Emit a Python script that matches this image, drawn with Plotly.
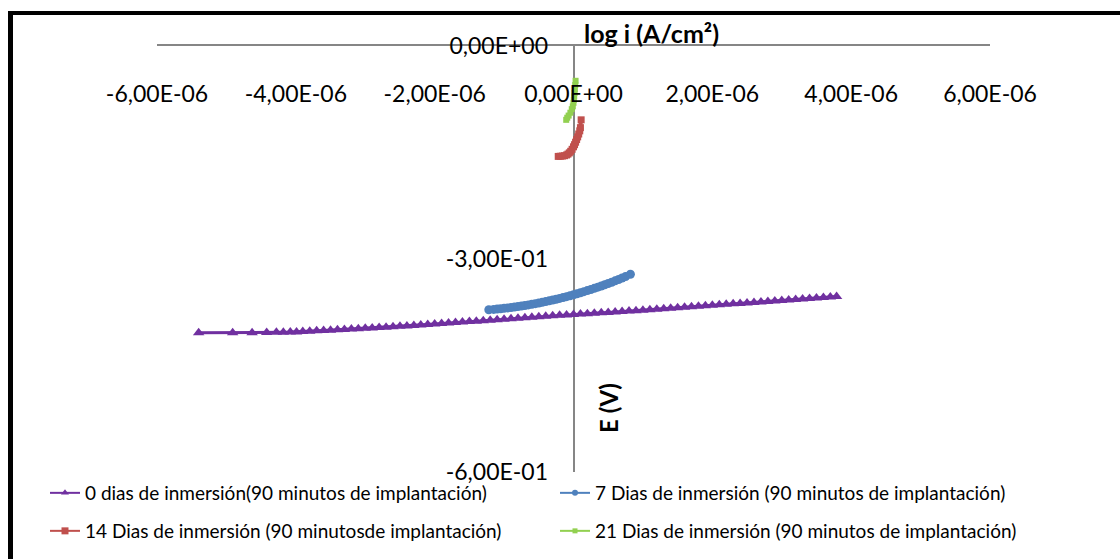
import plotly.graph_objects as go

# ---------------- data (current in 1e-6 A/cm2, potential in V) ----------------
x0_e6 = [-5.40, -4.91, -4.63, -4.42, -4.28, -4.18, -4.08, -3.99,
         -3.9, -3.8, -3.7, -3.6, -3.5, -3.4, -3.3, -3.2, -3.1, -3.0,
         -2.9, -2.8, -2.7, -2.6, -2.5, -2.4, -2.3, -2.2, -2.1, -2.0,
         -1.9, -1.8, -1.7, -1.6, -1.5, -1.4, -1.3, -1.2, -1.1, -1.0,
         -0.9, -0.8, -0.7, -0.6, -0.5, -0.4, -0.3, -0.2, -0.1, 0.0,
         0.1, 0.2, 0.3, 0.4, 0.5, 0.6, 0.7, 0.8, 0.9, 1.0,
         1.1, 1.2, 1.3, 1.4, 1.5, 1.6, 1.7, 1.8, 1.9, 2.0,
         2.1, 2.2, 2.3, 2.4, 2.5, 2.6, 2.7, 2.8, 2.9, 3.0,
         3.1, 3.2, 3.3, 3.4, 3.5, 3.6, 3.7, 3.79]
e0 = [-0.4040, -0.4040, -0.4038, -0.4035, -0.4033, -0.4031, -0.4029, -0.4027,
      -0.4022, -0.4017, -0.4012, -0.4007, -0.4002, -0.3997, -0.3992, -0.3987, -0.3982, -0.3977,
      -0.3972, -0.3966, -0.3960, -0.3954, -0.3948, -0.3942, -0.3936, -0.3930, -0.3924, -0.3917,
      -0.3910, -0.3903, -0.3896, -0.3889, -0.3882, -0.3875, -0.3868, -0.3861, -0.3854, -0.3847,
      -0.3840, -0.3833, -0.3826, -0.3819, -0.3812, -0.3806, -0.3800, -0.3794, -0.3788, -0.3782,
      -0.3776, -0.3770, -0.3764, -0.3758, -0.3752, -0.3746, -0.3740, -0.3734, -0.3728, -0.3722,
      -0.3716, -0.3709, -0.3702, -0.3695, -0.3688, -0.3681, -0.3674, -0.3667, -0.3660, -0.3653,
      -0.3646, -0.3639, -0.3632, -0.3625, -0.3618, -0.3611, -0.3604, -0.3597, -0.3590, -0.3583,
      -0.3576, -0.3569, -0.3562, -0.3555, -0.3548, -0.3541, -0.3534, -0.3527]

x7_e6 = [-1.22, -1.15, -1.1, -1.05, -1.0, -0.95, -0.9, -0.85, -0.8, -0.75, -0.7, -0.65,
         -0.6, -0.55, -0.5, -0.45, -0.4, -0.35, -0.3, -0.25, -0.2, -0.15, -0.1, -0.05,
         0.0, 0.05, 0.1, 0.15, 0.2, 0.25, 0.3, 0.35, 0.4, 0.45, 0.5, 0.55, 0.6, 0.65,
         0.7, 0.75, 0.82]
e7 = [-0.3715, -0.3710, -0.3705, -0.3700, -0.3695, -0.3689, -0.3683, -0.3677, -0.3670, -0.3663, -0.3655, -0.3647,
      -0.3638, -0.3629, -0.3620, -0.3610, -0.3600, -0.3589, -0.3578, -0.3567, -0.3555, -0.3543, -0.3530, -0.3517,
      -0.3503, -0.3489, -0.3475, -0.3460, -0.3445, -0.3429, -0.3413, -0.3397, -0.3380, -0.3363, -0.3345, -0.3327, -0.3308, -0.3288,
      -0.3268, -0.3248, -0.3215]

x14_e6 = [-0.22, -0.19, -0.16, -0.13, -0.10, -0.08, -0.06, -0.04, -0.02, 0.0, 0.015, 0.03, 0.045,
          0.06, 0.075, 0.09, 0.10, 0.11]
e14 = [-0.1555, -0.1553, -0.1550, -0.1545, -0.1535, -0.1522, -0.1505, -0.1483, -0.1455, -0.1420, -0.1390, -0.1355, -0.1318,
       -0.1280, -0.1240, -0.1195, -0.1150, -0.1040]

x21_e6 = [0.03, 0.025, 0.02, 0.015, 0.01, 0.005, 0.0, -0.01, -0.025, -0.045, -0.07, -0.09, -0.105]
e21 = [-0.049, -0.055, -0.061, -0.066, -0.071, -0.076, -0.080, -0.085, -0.089, -0.094, -0.098, -0.101, -0.104]

x_ticks = [-6e-6, -4e-6, -2e-6, 0, 2e-6, 4e-6, 6e-6]
x_tick_text = ["-6,00E-06", "-4,00E-06", "-2,00E-06", "0,00E+00", "2,00E-06", "4,00E-06", "6,00E-06"]
y_ticks = [0, -0.3, -0.6]
y_tick_text = ["0,00E+00", "-3,00E-01", "-6,00E-01"]

names = ["0 dias de inmersión(90 minutos de implantación)",
         "7 Dias de inmersión (90 minutos de implantación)",
         "14 Dias de inmersión (90 minutosde implantación)",
         "21 Dias de inmersión (90 minutos de implantación)"]
colors = ["#7030A0", "#4F81BD", "#C0504D", "#92D050"]
symbols = ["triangle-up", "circle", "square", "square"]

FONT = "Lato"

# plot-area geometry in pixels (for paper-coordinate helpers)
L, R, T, B = 157, 990, 46, 472
W, H = R - L, B - T
def px(xp):
    return (xp - L) / W
def py(yp):
    return (B - yp) / H

fig = go.Figure()

series = [(x0_e6, e0), (x7_e6, e7), (x14_e6, e14), (x21_e6, e21)]
line_w = [3, 4, 4, 4]
mk_size = [10, 9, 7, 6]
for i, (xs, es) in enumerate(series):
    fig.add_trace(go.Scatter(
        x=[v * 1e-6 for v in xs], y=es, mode="lines+markers",
        line=dict(color=colors[i], width=line_w[i]),
        marker=dict(symbol=symbols[i], size=mk_size[i], color=colors[i]),
        showlegend=False, hoverinfo="skip"))

# legend-only entries (one legend per entry for exact placement)
leg_ids = ["legend", "legend2", "legend3", "legend4"]
legend_mk = [7, 6, 7, 5]
for i in range(4):
    fig.add_trace(go.Scatter(
        x=[None], y=[None], xaxis="x2", mode="lines+markers", name=names[i],
        line=dict(color=colors[i], width=2),
        marker=dict(symbol=symbols[i], size=legend_mk[i], color=colors[i]),
        legend=leg_ids[i]))

row1, row2 = py(493), py(531)
col1, col2 = px(45), px(555)
legend_pos = {"legend": (col1, row1), "legend2": (col2, row1),
              "legend3": (col1, row2), "legend4": (col2, row2)}
leg_layout = {}
for k, (lx, ly) in legend_pos.items():
    leg_layout[k] = dict(x=lx, y=ly, xanchor="left", yanchor="middle",
                         font=dict(family=FONT, size=19, color="#000000"),
                         bgcolor="rgba(0,0,0,0)", borderwidth=0)

fig.update_layout(
    width=1120, height=559,
    margin=dict(l=L, r=1120 - R, t=T, b=559 - B, autoexpand=False),
    paper_bgcolor="white", plot_bgcolor="white",
    font=dict(family=FONT, color="#000000"),
    xaxis=dict(range=[-6e-6, 6e-6], side="top", showline=True, linecolor="#868686",
               linewidth=2, showticklabels=False, ticks="", showgrid=False,
               zeroline=True, zerolinecolor="#868686", zerolinewidth=2),
    xaxis2=dict(range=[-6e-6, 6e-6], overlaying="x", anchor="free", position=py(78),
                side="bottom", showline=False, showgrid=False, zeroline=False, ticks="",
                tickmode="array", tickvals=x_ticks, ticktext=x_tick_text,
                tickfont=dict(family=FONT, size=23, color="#000000")),
    yaxis=dict(range=[-0.6, 0], anchor="free", position=px(575), side="left",
               showline=False, showgrid=False, zeroline=False, ticks="",
               tickmode="array", tickvals=y_ticks, ticktext=y_tick_text,
               ticklabelstandoff=27,
               tickfont=dict(family=FONT, size=23, color="#000000")),
    annotations=[
        dict(text="<b>log i (A/cm²)</b>", xref="paper", yref="paper", x=px(582), y=py(33),
             xanchor="left", yanchor="middle", showarrow=False,
             font=dict(family=FONT, size=25, color="#000000")),
        dict(text="<b>E (V)</b>", xref="paper", yref="paper", x=px(608), y=py(408),
             xanchor="center", yanchor="middle", textangle=-90, showarrow=False,
             font=dict(family=FONT, size=24, color="#000000")),
    ],
    shapes=[
        dict(type="line", xref="paper", yref="paper", x0=px(10.5), x1=px(10.5),
             y0=py(11), y1=py(575), line=dict(color="black", width=5)),
        dict(type="line", xref="paper", yref="paper", x0=px(8), x1=px(1135),
             y0=py(13), y1=py(13), line=dict(color="black", width=4)),
    ],
    **leg_layout,
)

fig.write_html("out.html")
